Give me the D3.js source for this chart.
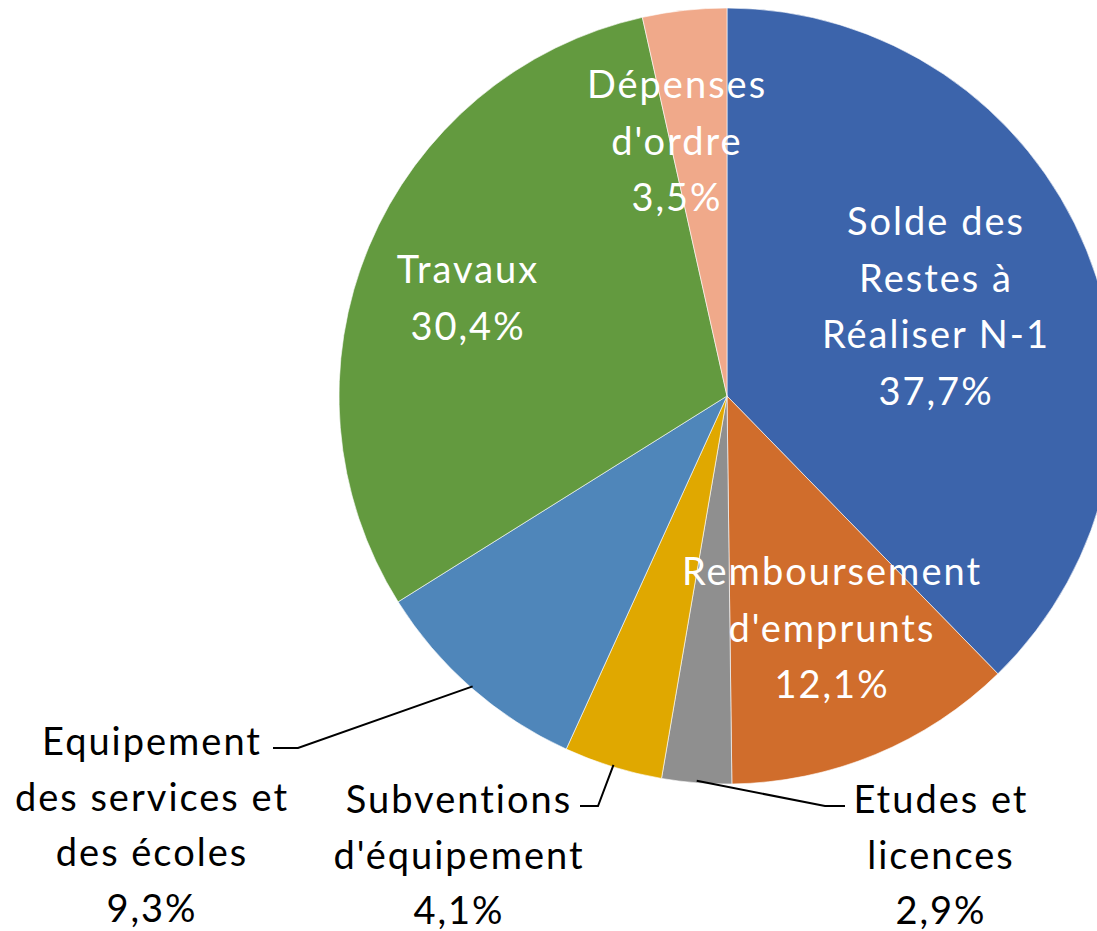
<!DOCTYPE html>
<html>
<head>
<meta charset="utf-8">
<script src="https://cdn.jsdelivr.net/npm/d3@7"></script>
<style>
  html, body { margin: 0; padding: 0; background: #fff; }
  #paper { width: 1097px; height: 931px; }
</style>
</head>
<body>
<div id="paper"></div>
<script>
// budget pie - dépenses d'investissement

const categories = [
  "Solde des Restes à Réaliser N-1",
  "Remboursement d'emprunts",
  "Etudes et licences",
  "Subventions d'équipement",
  "Equipement des services et des écoles",
  "Travaux",
  "Dépenses d'ordre"
];
const values = [37.7, 12.1, 2.9, 4.1, 9.3, 30.4, 3.5];
const labelLines = [
  ["Solde des", "Restes à", "Réaliser N-1"],
  ["Remboursement", "d'emprunts"],
  ["Etudes et", "licences"],
  ["Subventions", "d'équipement"],
  ["Equipement", "des services et", "des écoles"],
  ["Travaux"],
  ["Dépenses", "d'ordre"]
];
const colours = ["#3C64AB", "#D06D2C", "#8F8F8F", "#E0A800", "#4F86BA", "#639A3F", "#F0A98A"];

// layout only (label block centres, first line y, inside/outside)
const labelPos = [
  { x: 935, y: 222, inside: true },
  { x: 831, y: 572, inside: true },
  { x: 940, y: 800, inside: false, leader: [[845, 806], [825, 806]] },
  { x: 458, y: 800, inside: false, leader: [[580, 806], [598, 806]] },
  { x: 151, y: 742, inside: false, leader: [[273, 748], [298, 748]] },
  { x: 467, y: 270, inside: true },
  { x: 676, y: 85, inside: true }
];

const width = 1097, height = 931;
const cx = 727, cy = 396, radius = 388;

const svg = d3.select("#paper")
  .append("svg")
  .attr("width", width)
  .attr("height", height)
  .style("background-color", "#fff");

const data = categories.map((c, i) => ({ name: c, value: values[i], i: i }));

const pie = d3.pie().value(d => d.value).sort(null);
const arcs = pie(data);
const arc = d3.arc().innerRadius(0).outerRadius(radius);
const edgeArc = d3.arc().innerRadius(radius - 2).outerRadius(radius - 2);

const g = svg.append("g").attr("transform", `translate(${cx},${cy})`);

g.selectAll("path.slice")
  .data(arcs)
  .join("path")
  .attr("class", "slice")
  .attr("d", arc)
  .attr("fill", d => colours[d.data.i])
  .attr("stroke", "#fff")
  .attr("stroke-width", 0.6);

// leader lines for outside labels
const line = d3.line();
arcs.forEach(d => {
  const p = labelPos[d.data.i];
  if (p.inside) return;
  const c = edgeArc.centroid(d);
  const pts = p.leader.concat([[c[0] + cx, c[1] + cy]]);
  svg.append("path")
    .attr("d", line(pts))
    .attr("fill", "none")
    .attr("stroke", "#000")
    .attr("stroke-width", 2);
});

const fmt = v => v.toFixed(1).replace(".", ",") + "%";

arcs.forEach(d => {
  const p = labelPos[d.data.i];
  const lines = labelLines[d.data.i].concat([fmt(d.data.value)]);
  const gap = p.inside ? 56.5 : 55.5;
  const t = svg.append("text")
    .attr("text-anchor", "middle")
    .attr("font-family", "Lato, 'Open Sans', sans-serif")
    .attr("font-size", 38)
    .attr("letter-spacing", 2)
    .attr("fill", p.inside ? "#fff" : "#000");
  lines.forEach((s, k) => {
    t.append("tspan")
      .attr("x", p.x + 1)
      .attr("y", p.y + k * gap)
      .attr("dy", "0.35em")
      .text(s);
  });
});
</script>
</body>
</html>
